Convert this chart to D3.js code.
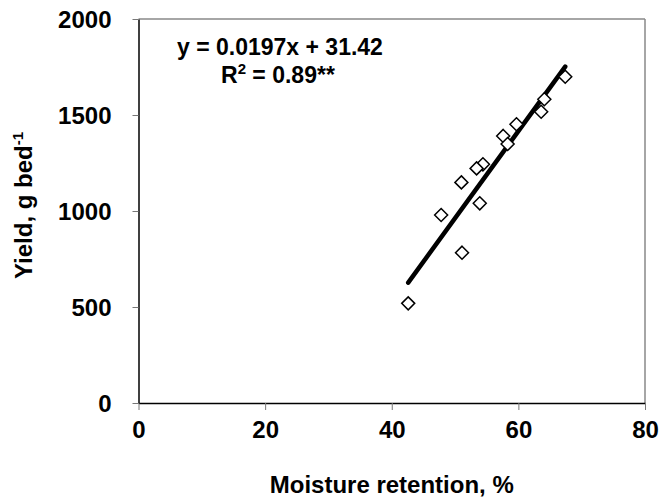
<!DOCTYPE html>
<html>
<head>
<meta charset="utf-8">
<script src="https://cdn.jsdelivr.net/npm/d3@7"></script>
<style>
  body { margin: 0; background: #fff; }
  text { font-family: "Liberation Sans", Arial, sans-serif; font-weight: bold; }
</style>
</head>
<body>
<div id="chart"></div>
<script>
// moisture retention (%) and yield (g bed-1)
const moisture = [67.4, 64.1, 63.6, 59.7, 57.6, 58.3, 54.4, 53.4, 51.0, 53.9, 47.8, 51.1, 42.6];
const yieldVals = [1699, 1582, 1517, 1452, 1391, 1349, 1243, 1222, 1149, 1040, 979, 783, 519];

// trend line end points
const lineX = [42.6, 67.4];
const lineY = [627, 1752];

const xTicks = [0, 20, 40, 60, 80];
const yTicks = [0, 500, 1000, 1500, 2000];

const width = 661, height = 501;
const margin = { left: 138.5, right: 16, top: 19, bottom: 98 };

const svg = d3.select("#chart").append("svg")
  .attr("width", width)
  .attr("height", height);

const x = d3.scaleLinear().domain([0, 80]).range([margin.left, width - margin.right]);
const y = d3.scaleLinear().domain([0, 2000]).range([height - margin.bottom, margin.top]);

// plot frame: top and right grey, left and bottom black
svg.append("line")
  .attr("x1", x(0)).attr("x2", x(80)).attr("y1", y(2000)).attr("y2", y(2000))
  .attr("stroke", "#888").attr("stroke-width", 1.5);
svg.append("line")
  .attr("x1", x(80)).attr("x2", x(80)).attr("y1", y(2000)).attr("y2", y(0))
  .attr("stroke", "#888").attr("stroke-width", 1.5);

// axes
const xAxis = svg.append("g")
  .attr("transform", `translate(0, ${y(0)})`)
  .call(d3.axisBottom(x).tickValues(xTicks).tickFormat(d3.format("d"))
    .tickSize(7).tickPadding(11).tickSizeOuter(0));
const yAxis = svg.append("g")
  .attr("transform", `translate(${x(0)}, 0)`)
  .call(d3.axisLeft(y).tickValues(yTicks).tickFormat(d3.format("d"))
    .tickSize(6).tickPadding(21).tickSizeOuter(0));

[xAxis, yAxis].forEach((a) => {
  a.select(".domain").attr("stroke", "#000").attr("stroke-width", 1.5);
  a.selectAll(".tick line").attr("stroke", "#777").attr("stroke-width", 1);
  a.selectAll(".tick text")
    .attr("fill", "#000")
    .style("font-size", "24px")
    .style("font-family", "'Liberation Sans', Arial, sans-serif")
    .style("font-weight", "bold");
});
yAxis.selectAll(".tick text").attr("dy", "0.35em");

// trend line
svg.append("line")
  .attr("x1", x(lineX[0])).attr("y1", y(lineY[0]))
  .attr("x2", x(lineX[1])).attr("y2", y(lineY[1]))
  .attr("stroke", "#000")
  .attr("stroke-width", 4.5)
  .attr("stroke-linecap", "round");

// diamond markers
const pts = moisture.map((m, i) => ({ m: m, v: yieldVals[i] }));
svg.append("g").selectAll("path")
  .data(pts)
  .join("path")
  .attr("transform", (d) => `translate(${x(d.m)}, ${y(d.v)})`)
  .attr("d", "M0,-6.5L6.5,0L0,6.5L-6.5,0Z")
  .attr("fill", "#fff")
  .attr("stroke", "#000")
  .attr("stroke-width", 1.5);

// equation text
svg.append("text")
  .attr("x", 177).attr("y", 55)
  .style("font-size", "23px")
  .text("y = 0.0197x + 31.42");
const r2 = svg.append("text")
  .attr("x", 221).attr("y", 83)
  .style("font-size", "23px");
r2.append("tspan").text("R");
r2.append("tspan").attr("dy", -9).style("font-size", "15px").text("2");
r2.append("tspan").attr("dy", 9).text(" = 0.89**");

// axis titles
svg.append("text")
  .attr("x", x(40)).attr("y", 493)
  .attr("text-anchor", "middle")
  .style("font-size", "24px")
  .text("Moisture retention, %");

const yt = svg.append("text")
  .attr("transform", `translate(32, 205.5) rotate(-90)`)
  .attr("text-anchor", "middle")
  .style("font-size", "24px");
yt.append("tspan").text("Yield, g bed");
yt.append("tspan").attr("dy", -9).style("font-size", "15px").text("-1");
</script>
</body>
</html>
